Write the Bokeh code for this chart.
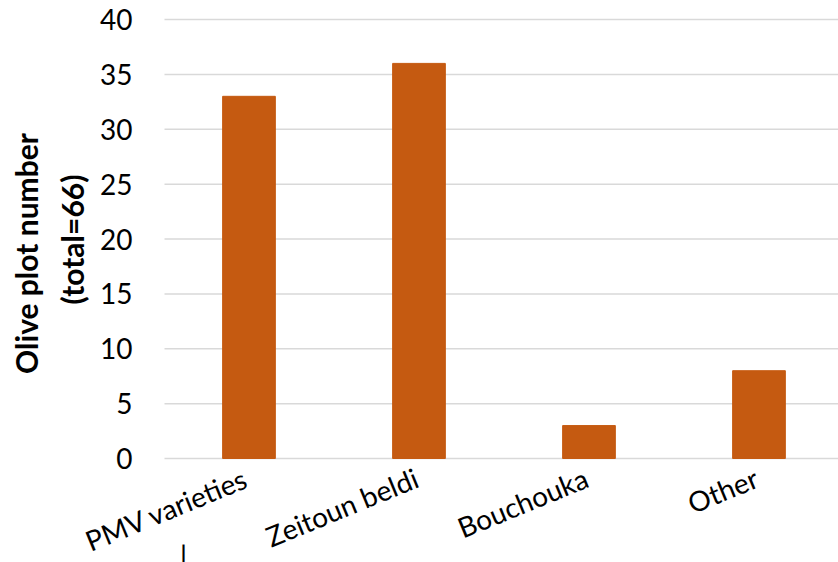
from bokeh.plotting import figure
from bokeh.models import Range1d, ColumnDataSource, LabelSet, Label
from bokeh.core.properties import value
from bokeh.embed import file_html
from bokeh.resources import INLINE
import math

categories = ["PMV varieties", "Zeitoun beldi", "Bouchouka", "Other"]
values = [33, 36, 3, 8]
y_ticks = [0, 5, 10, 15, 20, 25, 30, 35, 40]
y_tick_labels = [str(t) for t in y_ticks]
y_title_lines = ["Olive plot number", "(total=66)"]

FONT = "Lato"
W, H = 838, 562
# plot area in canvas pixels (where the value axis 0..40 and categories live)
PL, PT, PB = 164, 19, 458
CAT_PX = 170.0                       # pixels per category slot
Y_PX = (PB - PT) / 40.0              # pixels per unit value

# ranges chosen so the drawing area spans the whole canvas
X0 = 0.003 - PL / CAT_PX
X1 = 0.003 + (W - PL) / CAT_PX
Y0 = -(H - PB) / Y_PX
Y1 = 40 + PT / Y_PX

def px_to_x(px):
    return X0 + px / CAT_PX
def py_to_y(py):
    return Y1 - py / Y_PX

xs = [i + 0.5 for i in range(len(categories))]
src = ColumnDataSource(dict(x=xs, top=values, base=[0] * len(xs), cat=categories))

p = figure(width=W, height=H, output_backend="svg", toolbar_location=None,
           x_range=Range1d(X0, X1), y_range=Range1d(Y0, Y1), min_border=0)
p.xaxis.visible = False
p.yaxis.visible = False
p.xgrid.visible = False
p.ygrid.visible = False
p.outline_line_color = None

# horizontal grid lines at the value ticks
grid_src = ColumnDataSource(dict(y=y_ticks, lab=y_tick_labels))
p.segment(x0=px_to_x(PL), x1=X1, y0="y", y1="y", source=grid_src,
          line_color="#D9D9D9", line_width=1.5)

# bars
p.vbar(x="x", top="top", width=0.31, source=src, fill_color="#C55A11",
       line_color="#C55A11")

# value tick labels
p.add_layout(LabelSet(x=px_to_x(PL - 32), y="y", text="lab", source=grid_src,
                      text_align="right", text_baseline="middle",
                      text_font=value(FONT), text_font_size="28px",
                      text_color="#000000"))

# category labels, rotated, anchored just below each category
p.add_layout(LabelSet(x="x", y="base", text="cat", source=src,
                      x_offset=-9, y_offset=-2,
                      angle=0.39, text_align="right", text_baseline="top",
                      text_font=value(FONT), text_font_size="28px",
                      text_color="#000000"))

# stray mark below the first category label in the original
p.add_layout(Label(x=px_to_x(183), y=py_to_y(538), text="|",
                   text_align="center", text_baseline="top",
                   text_font=FONT, text_font_size="30px", text_color="#000000"))

# value-axis title (two rotated lines)
for txt, (px, py) in zip(y_title_lines, [(25, 253), (71, 239)]):
    p.add_layout(Label(x=px_to_x(px), y=py_to_y(py), text=txt, angle=math.pi / 2,
                       text_align="center", text_baseline="middle",
                       text_font=FONT, text_font_size="30px",
                       text_font_style="bold", text_color="#000000"))

open("out.html", "w").write(file_html(p, INLINE))
